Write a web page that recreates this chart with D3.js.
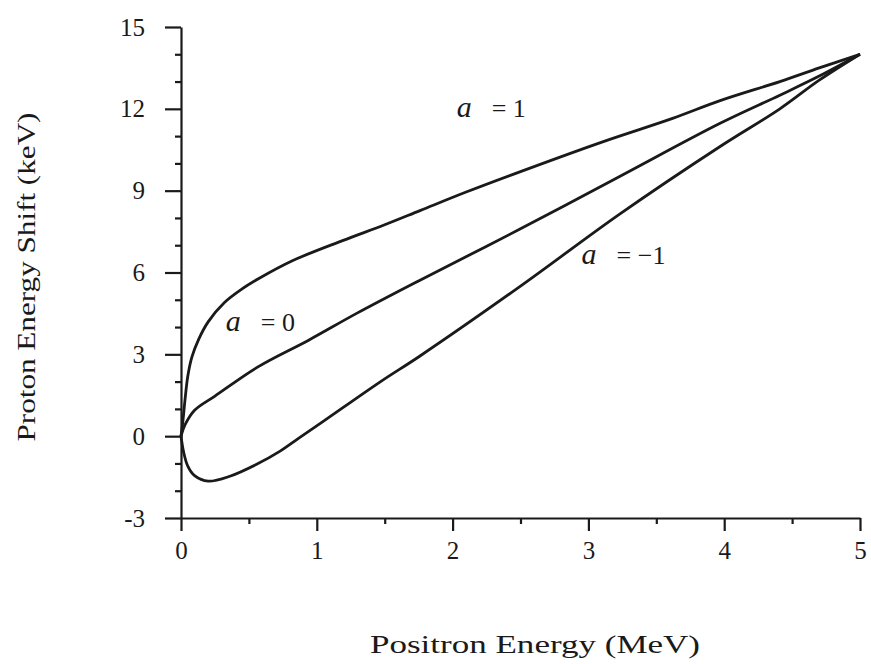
<!DOCTYPE html>
<html>
<head>
<meta charset="utf-8">
<script src="https://cdn.jsdelivr.net/npm/d3@7"></script>
<style>
  body { margin: 0; background: #fff; }
  svg text { font-family: "Times New Roman", "Liberation Serif", Times, serif; fill: #1a1a1a; }
</style>
</head>
<body>
<div class="container"></div>
<script>
// curves: positron energy (MeV) vs proton energy shift (keV)
const a1X = [0, 0.015, 0.03, 0.05, 0.08, 0.13, 0.20, 0.32, 0.45, 0.57, 0.82, 1.19, 1.50, 1.76, 2.10, 2.50, 3.11, 3.62, 3.97, 4.41, 4.70, 5.0]
const a1Y = [0, 0.6, 1.36, 2.2, 2.9, 3.55, 4.19, 4.9, 5.4, 5.77, 6.43, 7.17, 7.75, 8.27, 8.95, 9.7, 10.8, 11.65, 12.3, 13.0, 13.5, 14.0]

const a0X = [0, 0.03, 0.10, 0.25, 0.57, 0.94, 1.30, 1.76, 2.50, 3.23, 3.97, 4.41, 4.70, 5.0]
const a0Y = [0, 0.42, 0.95, 1.47, 2.55, 3.52, 4.52, 5.72, 7.6, 9.52, 11.47, 12.5, 13.2, 14.0]

const am1X = [0, 0.02, 0.05, 0.10, 0.20, 0.36, 0.55, 0.73, 0.86, 1.05, 1.47, 1.76, 2.50, 3.23, 3.97, 4.41, 4.70, 5.0]
const am1Y = [0, -0.6, -1.1, -1.45, -1.65, -1.47, -1.05, -0.55, -0.1, 0.55, 2.0, 2.94, 5.5, 8.14, 10.62, 12.0, 13.05, 14.0]

const xTicks = [0, 1, 2, 3, 4, 5]
const xMinor = [0.5, 1.5, 2.5, 3.5, 4.5]
const yTicks = [-3, 0, 3, 6, 9, 12, 15]
const yMinor = [-2, -1, 1, 2, 4, 5, 7, 8, 10, 11, 13, 14]

const labels = [
    { x: 2.03, y: 11.7, val: "= 1" },
    { x: 0.33, y: 3.85, val: "= 0" },
    { x: 2.95, y: 6.3, val: "= \u22121" }
]

const width = 871
const height = 664
const margin = { top: 27, bottom: 146, left: 181, right: 11 }

let svg = d3.select(".container")
    .append("svg")
    .attr("width", width)
    .attr("height", height)
    .attr("viewBox", [0, 0, width, height])

let xScale = d3.scaleLinear()
    .domain([0, 5])
    .range([margin.left, width - margin.right])

let yScale = d3.scaleLinear()
    .domain([-3, 15])
    .range([height - margin.bottom, margin.top])

// minor ticks first, then the main axes on top
svg.append("g")
    .attr("transform", `translate(0, ${yScale(-3)})`)
    .call(d3.axisBottom(xScale).tickValues(xMinor).tickSize(6).tickFormat(""))
    .call(g => g.select(".domain").remove())

svg.append("g")
    .attr("transform", `translate(${xScale(0)}, 0)`)
    .call(d3.axisLeft(yScale).tickValues(yMinor).tickSize(6).tickFormat(""))
    .call(g => g.select(".domain").remove())

svg.append("g")
    .attr("id", "x-axis")
    .attr("transform", `translate(0, ${yScale(-3)})`)
    .call(d3.axisBottom(xScale).tickValues(xTicks).tickSize(13).tickSizeOuter(0).tickPadding(10).tickFormat(d3.format("d")))

svg.append("g")
    .attr("id", "y-axis")
    .attr("transform", `translate(${xScale(0)}, 0)`)
    .call(d3.axisLeft(yScale).tickValues(yTicks).tickSize(16).tickSizeOuter(0).tickPadding(20).tickFormat(d => d < 0 ? "-" + Math.abs(d) : d))

svg.selectAll(".tick line, .domain")
    .attr("stroke", "#1a1a1a")
    .attr("stroke-width", 2.2)

svg.selectAll("#x-axis text, #y-axis text")
    .attr("font-size", 25)
    .attr("fill", "#1a1a1a")

let line = d3.line()
    .x(d => xScale(d[0]))
    .y(d => yScale(d[1]))
    .curve(d3.curveCatmullRom.alpha(0.5))

let series = [
    d3.zip(a1X, a1Y),
    d3.zip(a0X, a0Y),
    d3.zip(am1X, am1Y)
]

svg.append("g")
    .selectAll("path")
    .data(series)
    .join("path")
    .attr("d", line)
    .attr("fill", "none")
    .attr("stroke", "#1a1a1a")
    .attr("stroke-width", 2.8)
    .attr("stroke-linejoin", "round")

// curve labels: italic a, then the value
let lab = svg.append("g")
    .selectAll("g")
    .data(labels)
    .join("g")
    .attr("transform", d => `translate(${xScale(d.x)}, ${yScale(d.y)})`)

lab.append("text")
    .attr("font-size", 30)
    .attr("font-style", "italic")
    .text("a")

lab.append("text")
    .attr("x", 35)
    .attr("font-size", 26)
    .text(d => d.val)

svg.append("text")
    .attr("text-anchor", "middle")
    .attr("x", 535)
    .attr("y", 653)
    .attr("font-size", 25)
    .attr("textLength", 330)
    .attr("lengthAdjust", "spacingAndGlyphs")
    .text("Positron Energy (MeV)")

svg.append("text")
    .attr("text-anchor", "middle")
    .attr("transform", "translate(35, 277) rotate(-90)")
    .attr("font-size", 25)
    .attr("textLength", 329)
    .attr("lengthAdjust", "spacingAndGlyphs")
    .text("Proton Energy Shift (keV)")
</script>
</body>
</html>
